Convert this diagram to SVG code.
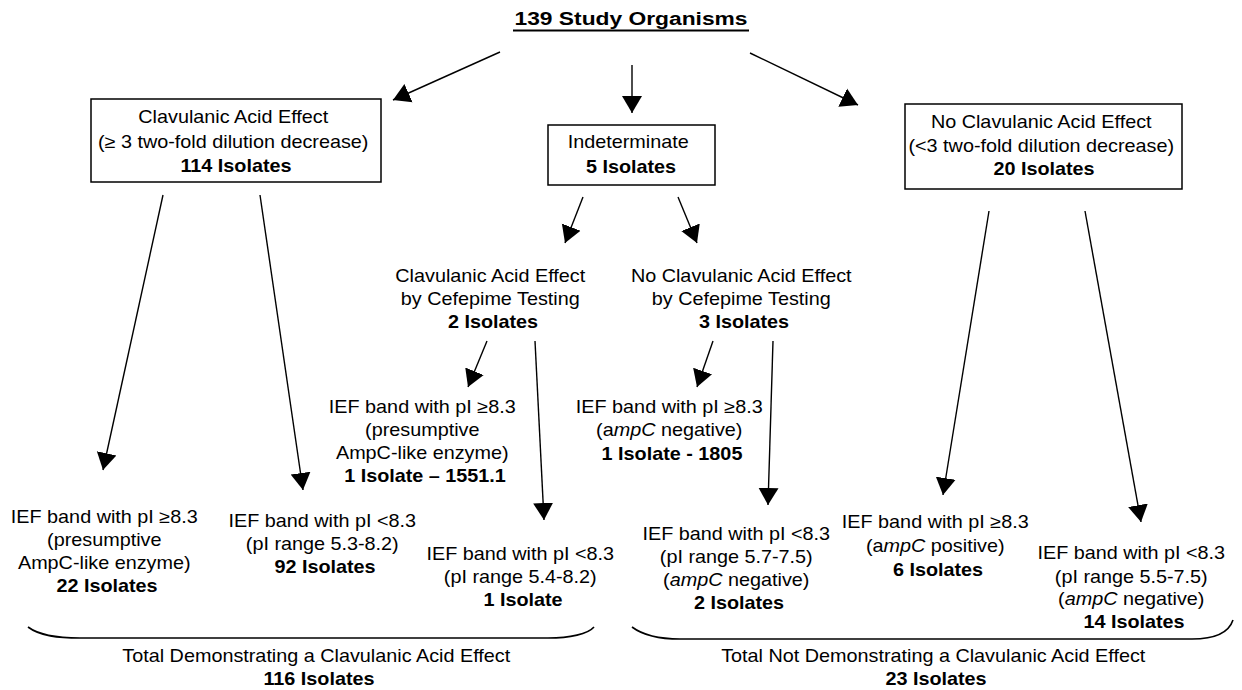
<svg xmlns="http://www.w3.org/2000/svg" width="1242" height="690" viewBox="0 0 1242 690">
  <style>
    .t { font-family: "Liberation Sans", Arial, sans-serif; font-size: 18px; fill: #000; text-anchor: middle; }
    .b { font-weight: bold; }
    .i { font-style: italic; }
    .box { fill: #fff; stroke: #000; stroke-width: 1.5; }
    .con { stroke: #000; stroke-width: 1.4; fill: none; marker-end: url(#ah); }
    .brace { stroke: #000; stroke-width: 1.6; fill: none; }
  </style>
  <defs>
    <marker id="ah" markerWidth="17" markerHeight="22" refX="17" refY="11" orient="auto" markerUnits="userSpaceOnUse">
      <path d="M0,1 L17,11 L0,21 z" fill="#000"/>
    </marker>
  </defs>
  <rect width="1242" height="690" fill="#fff"/>

  <g id="title">
    <text class="t b" transform="translate(631 0) scale(1.2 1)"><tspan x="0" y="25" style="font-size:19px">139 Study Organisms</tspan></text>
    <line x1="513" y1="30.5" x2="749" y2="30.5" stroke="#000" stroke-width="2"/>
  </g>

  <g id="node-clav">
    <rect class="box" x="91" y="99" width="290" height="83"/>
    <text class="t" transform="translate(236 0) scale(1.1 1)">
      <tspan x="0" y="123">Clavulanic Acid Effect</tspan>
      <tspan x="0" y="148">(≥ 3 two-fold dilution decrease)</tspan>
      <tspan x="0" y="172" class="b">114 Isolates</tspan>
    </text>
  </g>

  <g id="node-indeterminate">
    <rect class="box" x="548" y="125" width="167" height="60"/>
    <text class="t" transform="translate(631 0) scale(1.1 1)">
      <tspan x="0" y="148">Indeterminate</tspan>
      <tspan x="0" y="173" class="b">5 Isolates</tspan>
    </text>
  </g>

  <g id="node-noclav">
    <rect class="box" x="905" y="104" width="277" height="85"/>
    <text class="t" transform="translate(1044 0) scale(1.1 1)">
      <tspan x="0" y="128">No Clavulanic Acid Effect</tspan>
      <tspan x="0" y="152">(&lt;3 two-fold dilution decrease)</tspan>
      <tspan x="0" y="175" class="b">20 Isolates</tspan>
    </text>
  </g>

  <g id="node-cef-clav">
    <text class="t" transform="translate(493 0) scale(1.1 1)">
      <tspan x="0" y="282">Clavulanic Acid Effect</tspan>
      <tspan x="0" y="305">by Cefepime Testing</tspan>
      <tspan x="0" y="328" class="b">2 Isolates</tspan>
    </text>
  </g>

  <g id="node-cef-noclav">
    <text class="t" transform="translate(744 0) scale(1.1 1)">
      <tspan x="0" y="282">No Clavulanic Acid Effect</tspan>
      <tspan x="0" y="305">by Cefepime Testing</tspan>
      <tspan x="0" y="328" class="b">3 Isolates</tspan>
    </text>
  </g>

  <g id="node-1551">
    <text class="t" transform="translate(425 0) scale(1.1 1)">
      <tspan x="0" y="413">IEF band with pI ≥8.3</tspan>
      <tspan x="0" y="436">(presumptive</tspan>
      <tspan x="0" y="459">AmpC-like enzyme)</tspan>
      <tspan x="0" y="482" class="b">1 Isolate – 1551.1</tspan>
    </text>
  </g>

  <g id="node-1805">
    <text class="t" transform="translate(672 0) scale(1.1 1)">
      <tspan x="0" y="413">IEF band with pI ≥8.3</tspan>
      <tspan x="0" y="436">(a<tspan class="i">mpC</tspan> negative)</tspan>
      <tspan x="0" y="460" class="b">1 Isolate - 1805</tspan>
    </text>
  </g>

  <g id="node-22">
    <text class="t" transform="translate(107 0) scale(1.1 1)">
      <tspan x="0" y="523">IEF band with pI ≥8.3</tspan>
      <tspan x="0" y="546">(presumptive</tspan>
      <tspan x="0" y="569">AmpC-like enzyme)</tspan>
      <tspan x="0" y="592" class="b">22 Isolates</tspan>
    </text>
  </g>

  <g id="node-92">
    <text class="t" transform="translate(325 0) scale(1.1 1)">
      <tspan x="0" y="527">IEF band with pI &lt;8.3</tspan>
      <tspan x="0" y="550">(pI range 5.3-8.2)</tspan>
      <tspan x="0" y="573" class="b">92 Isolates</tspan>
    </text>
  </g>

  <g id="node-1">
    <text class="t" transform="translate(523 0) scale(1.1 1)">
      <tspan x="0" y="560">IEF band with pI &lt;8.3</tspan>
      <tspan x="0" y="583">(pI range 5.4-8.2)</tspan>
      <tspan x="0" y="606" class="b">1 Isolate</tspan>
    </text>
  </g>

  <g id="node-2">
    <text class="t" transform="translate(739 0) scale(1.1 1)">
      <tspan x="0" y="540">IEF band with pI &lt;8.3</tspan>
      <tspan x="0" y="563">(pI range 5.7-7.5)</tspan>
      <tspan x="0" y="586">(<tspan class="i">ampC</tspan> negative)</tspan>
      <tspan x="0" y="609" class="b">2 Isolates</tspan>
    </text>
  </g>

  <g id="node-6">
    <text class="t" transform="translate(938 0) scale(1.1 1)">
      <tspan x="0" y="528">IEF band with pI ≥8.3</tspan>
      <tspan x="0" y="552">(a<tspan class="i">mpC</tspan> positive)</tspan>
      <tspan x="0" y="576" class="b">6 Isolates</tspan>
    </text>
  </g>

  <g id="node-14">
    <text class="t" transform="translate(1134 0) scale(1.1 1)">
      <tspan x="0" y="559">IEF band with pI &lt;8.3</tspan>
      <tspan x="0" y="583">(pI range 5.5-7.5)</tspan>
      <tspan x="0" y="605">(<tspan class="i">ampC</tspan> negative)</tspan>
      <tspan x="0" y="628" class="b">14 Isolates</tspan>
    </text>
  </g>

  <g id="total-clav">
    <path class="brace" d="M28,627 C40,636 58,638 80,638 L548,638 C570,638 588,634 594,627"/>
    <text class="t" transform="translate(319 0) scale(1.1 1)">
      <tspan x="0" y="662">Total Demonstrating a Clavulanic Acid Effect</tspan>
      <tspan x="0" y="685" class="b">116 Isolates</tspan>
    </text>
  </g>

  <g id="total-noclav">
    <path class="brace" d="M632,627 C644,636 660,639 680,639 L1192,639 C1215,639 1229,632 1233,620"/>
    <text class="t" transform="translate(936 0) scale(1.1 1)">
      <tspan x="0" y="662">Total Not Demonstrating a Clavulanic Acid Effect</tspan>
      <tspan x="0" y="685" class="b">23 Isolates</tspan>
    </text>
  </g>

  <g id="connectors">
    <line class="con" x1="500" y1="52" x2="393" y2="100"/>
    <line class="con" x1="632" y1="65" x2="632" y2="113"/>
    <line class="con" x1="750" y1="53" x2="858" y2="105"/>
    <line class="con" x1="163" y1="195" x2="103" y2="470"/>
    <line class="con" x1="260" y1="195" x2="303" y2="490"/>
    <line class="con" x1="583" y1="197" x2="565" y2="243"/>
    <line class="con" x1="678" y1="197" x2="697" y2="243"/>
    <line class="con" x1="487" y1="341" x2="468" y2="387"/>
    <line class="con" x1="535" y1="341" x2="544" y2="520"/>
    <line class="con" x1="713" y1="341" x2="697" y2="387"/>
    <line class="con" x1="773" y1="341" x2="768" y2="505"/>
    <line class="con" x1="989" y1="211" x2="943" y2="495"/>
    <line class="con" x1="1085" y1="211" x2="1141" y2="522"/>
  </g>
</svg>
